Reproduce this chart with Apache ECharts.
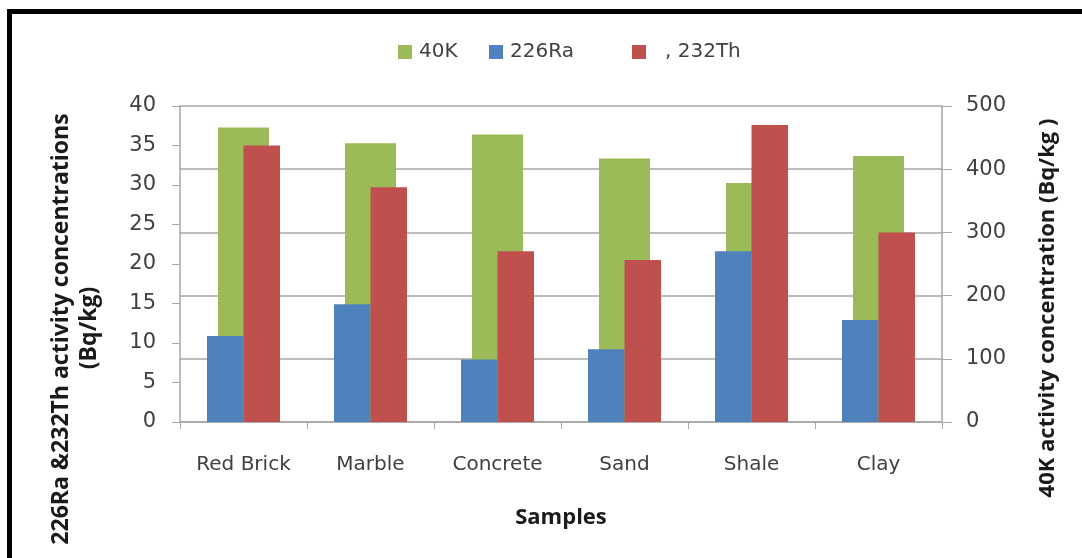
<!DOCTYPE html>
<html>
<head>
<meta charset="utf-8">
<script src="https://cdn.jsdelivr.net/npm/echarts@6/dist/echarts.min.js"></script>
<style>
html,body{margin:0;padding:0;background:#fff;}
#c{width:1082px;height:558px;}
</style>
</head>
<body>
<div id="c"></div>
<script>
const categories = ['Red Brick', 'Marble', 'Concrete', 'Sand', 'Shale', 'Clay'];
const k40 = [466, 441, 455, 417, 378, 421];
const ra226 = [10.9, 14.9, 7.9, 9.2, 21.6, 12.9];
const th232 = [35.0, 29.7, 21.6, 20.5, 37.6, 24.0];
const leftTicks = { min: 0, max: 40, interval: 5 };
const rightTicks = { min: 0, max: 500, interval: 100 };
const seriesNames = ['40K', '226Ra', ', 232Th'];

const FONT = 'DejaVu Sans';
const TFONT = '"Open Sans"';
const axisGray = '#a6a6a6';
const labelColor = '#404040';
const titleColor = '#1a1a1a';

function legendItem(name, left, padLeft) {
  return {
    data: [name], left: left, top: 42, padding: 0, itemWidth: 14, itemHeight: 14, itemGap: 0, icon: 'rect',
    textStyle: { fontFamily: FONT, fontSize: 20, color: labelColor, padding: [0, 0, 0, padLeft] }
  };
}

const chart = echarts.init(document.getElementById('c'), null, { renderer: 'canvas' });
chart.setOption({
  animation: false,
  backgroundColor: '#fff',
  textStyle: { fontFamily: FONT },
  legend: [
    legendItem(seriesNames[0], 398, 2),
    legendItem(seriesNames[1], 489, 2),
    legendItem(seriesNames[2], 632, 14)
  ],
  grid: { left: 180, right: 140, top: 106, bottom: 136 },
  xAxis: [
    {
      type: 'category', data: categories, position: 'bottom',
      axisLine: { show: true, lineStyle: { color: axisGray, width: 1.5 } },
      axisTick: { show: true, length: 7, lineStyle: { color: axisGray } },
      axisLabel: { fontFamily: FONT, fontSize: 20, color: labelColor, margin: 33 },
      splitLine: { show: false }
    },
    {
      type: 'category', data: categories, position: 'bottom', show: false
    }
  ],
  yAxis: [
    {
      type: 'value', position: 'left', min: leftTicks.min, max: leftTicks.max, interval: leftTicks.interval,
      axisLine: { show: true, lineStyle: { color: axisGray, width: 1.5 } },
      axisTick: { show: true, length: 8, lineStyle: { color: axisGray } },
      axisLabel: { fontFamily: FONT, fontSize: 21, color: labelColor, margin: 24 },
      splitLine: { show: false }
    },
    {
      type: 'value', position: 'right', min: rightTicks.min, max: rightTicks.max, interval: rightTicks.interval,
      axisLine: { show: true, lineStyle: { color: axisGray, width: 1.5 } },
      axisTick: { show: true, length: 10, lineStyle: { color: axisGray } },
      axisLabel: { fontFamily: FONT, fontSize: 21, color: labelColor, margin: 24 },
      splitLine: { show: true, lineStyle: { color: axisGray, width: 1.5 } }
    }
  ],
  series: [
    { name: seriesNames[0], type: 'bar', xAxisIndex: 1, yAxisIndex: 1, data: k40, barWidth: 51,
      itemStyle: { color: '#9BBB59' }, z: 1 },
    { name: seriesNames[1], type: 'bar', xAxisIndex: 0, yAxisIndex: 0, data: ra226, barWidth: 36.5, barGap: '0%',
      itemStyle: { color: '#4F81BD' }, z: 2 },
    { name: seriesNames[2], type: 'bar', xAxisIndex: 0, yAxisIndex: 0, data: th232, barWidth: 36.5, barGap: '0%',
      itemStyle: { color: '#C0504D' }, z: 2 }
  ],
  graphic: [
    { type: 'rect', shape: { x: 7, y: 9, width: 1075, height: 5 }, style: { fill: '#000' }, silent: true },
    { type: 'rect', shape: { x: 7, y: 9, width: 5, height: 549 }, style: { fill: '#000' }, silent: true },
    { type: 'text', x: 61, y: 329, rotation: Math.PI / 2,
      style: { text: '226Ra &232Th activity concentrations', font: 'bold 23px ' + TFONT, fill: titleColor, align: 'center', verticalAlign: 'middle' } },
    { type: 'text', x: 89, y: 328, rotation: Math.PI / 2,
      style: { text: '(Bq/kg)', font: 'bold 23px ' + TFONT, fill: titleColor, align: 'center', verticalAlign: 'middle' } },
    { type: 'text', x: 1048, y: 308, rotation: Math.PI / 2,
      style: { text: '40K activity concentration (Bq/kg )', font: 'bold 22px ' + TFONT, fill: titleColor, align: 'center', verticalAlign: 'middle' } },
    { type: 'text', x: 561, y: 518,
      style: { text: 'Samples', font: 'bold 22px ' + TFONT, fill: titleColor, align: 'center', verticalAlign: 'middle' } }
  ]
});
</script>
</body>
</html>
